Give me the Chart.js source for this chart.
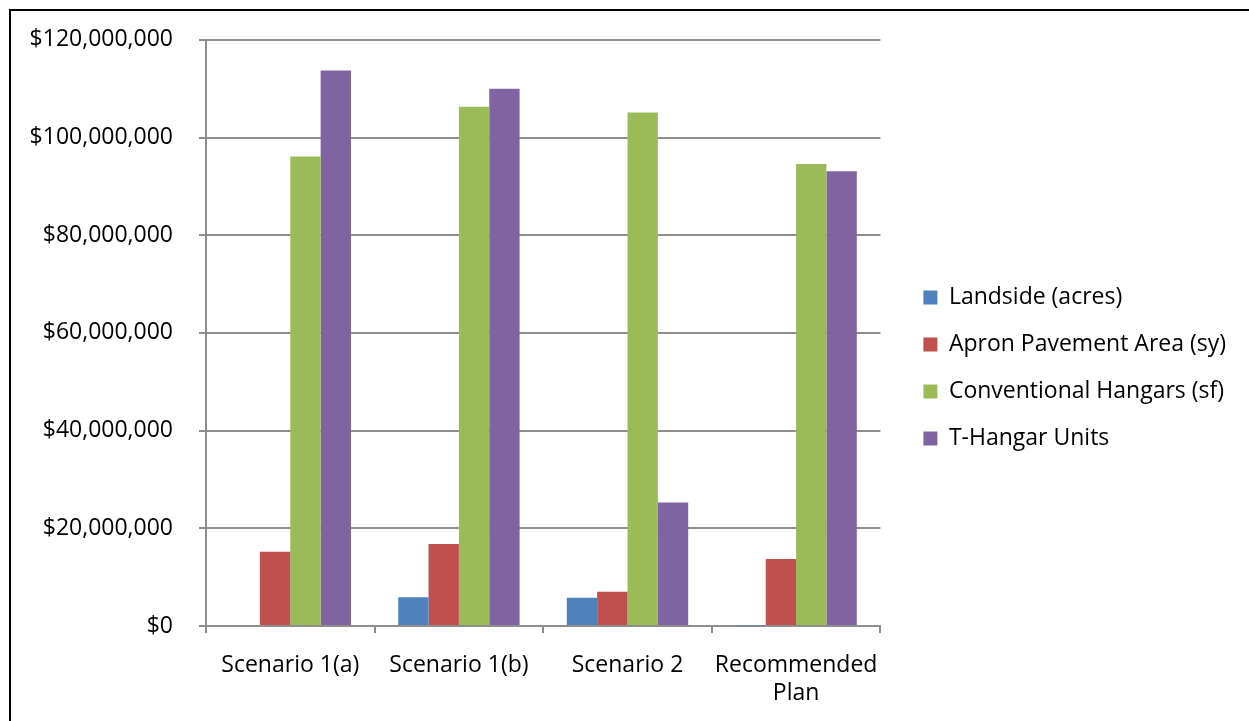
<!DOCTYPE html>
<html>
<head>
<meta charset="utf-8">
<script src="https://cdn.jsdelivr.net/npm/chart.js@4"></script>
<style>
  html, body { margin: 0; padding: 0; background: #fff; }
  #wrap { width: 1249px; height: 721px; position: relative; }
</style>
</head>
<body>
<div id="wrap"><canvas id="costChart"></canvas></div>
<script>
// scenarios along the x axis
const scenarios = ['Scenario 1(a)', 'Scenario 1(b)', 'Scenario 2', ['Recommended', 'Plan']]

// cost per facility type, dollars
const landside = [0, 5900000, 5800000, 100000]
const apronPavement = [15200000, 16800000, 7000000, 13700000]
const conventionalHangars = [96100000, 106300000, 105100000, 94600000]
const tHangarUnits = [113700000, 110000000, 25300000, 93100000]

const seriesNames = ['Landside (acres)', 'Apron Pavement Area (sy)', 'Conventional Hangars (sf)', 'T-Hangar Units']
const seriesColors = ['#4F81BD', '#C0504D', '#9BBB59', '#8064A2']

const FONT = "'Open Sans', sans-serif"
const FONT_SIZE = 23

// black frame on the top and left edges
const framePlugin = {
    id: 'frame',
    beforeDraw(chart) {
        const ctx = chart.ctx
        ctx.save()
        ctx.fillStyle = '#fff'
        ctx.fillRect(0, 0, chart.width, chart.height)
        ctx.fillStyle = '#000'
        ctx.fillRect(9, 9, chart.width - 9, 2)
        ctx.fillRect(9, 9, 2, chart.height - 9)
        ctx.restore()
    }
}

// centre the legend on the plot rather than on the whole canvas height
const legendShift = {
    id: 'legendShift',
    afterLayout(chart) {
        if (chart.legend) {
            chart.legend.top -= 12
            chart.legend.bottom -= 12
        }
    }
}

const fmt = v => '$' + v.toLocaleString('en-US')

const data = {
    labels: scenarios,
    datasets: [landside, apronPavement, conventionalHangars, tHangarUnits].map((vals, i) => ({
        label: seriesNames[i],
        data: vals,
        backgroundColor: seriesColors[i],
        borderWidth: 0,
        barPercentage: 1,
        categoryPercentage: 0.72
    }))
}

const canvas = document.getElementById('costChart')
const costChart = new Chart(canvas, {
    type: 'bar',
    data,
    plugins: [framePlugin, legendShift],
    options: {
        responsive: true,
        maintainAspectRatio: false,
        animation: false,
        layout: {
            padding: { top: 39, left: 0, right: 13, bottom: 0 }
        },
        plugins: {
            legend: {
                position: 'right',
                maxWidth: 420,
                labels: {
                    boxWidth: 14,
                    boxHeight: 14,
                    padding: 24,
                    color: '#000',
                    font: { family: FONT, size: FONT_SIZE }
                }
            },
            tooltip: { enabled: false }
        },
        scales: {
            x: {
                grid: {
                    offset: true,
                    drawOnChartArea: false,
                    drawTicks: true,
                    tickLength: 7,
                    color: '#8e8e8e',
                    lineWidth: 2
                },
                border: { color: '#8e8e8e', width: 2 },
                ticks: {
                    color: '#000',
                    padding: 18,
                    maxRotation: 0,
                    font: { family: FONT, size: FONT_SIZE, lineHeight: 1.22 }
                },
                afterFit: s => { s.height = 95 }
            },
            y: {
                min: 0,
                max: 120000000,
                grid: {
                    color: '#8e8e8e',
                    lineWidth: 2,
                    tickLength: 7
                },
                border: { color: '#8e8e8e', width: 2 },
                ticks: {
                    stepSize: 20000000,
                    color: '#000',
                    padding: 26,
                    font: { family: FONT, size: FONT_SIZE },
                    callback: v => fmt(v)
                },
                afterFit: s => { s.width = 206 }
            },
            // empty spacer between the plot and the legend
            gap: {
                axis: 'y',
                position: 'right',
                display: true,
                grid: { display: false },
                border: { display: false },
                ticks: { display: false },
                afterFit: s => { s.width = 19 }
            }
        }
    }
})
</script>
</body>
</html>
